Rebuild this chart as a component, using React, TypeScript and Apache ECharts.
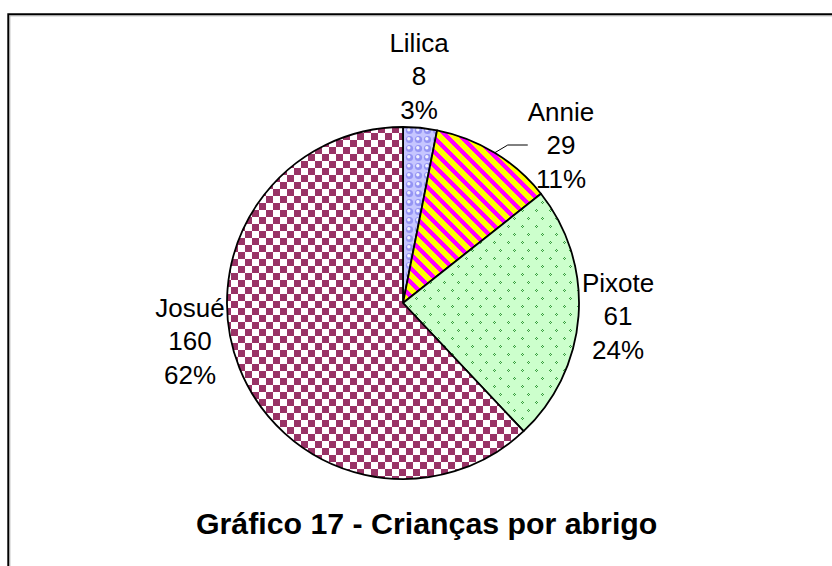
import React, { useEffect, useRef } from 'react';
import * as echarts from 'echarts';

const categories = ['Lilica', 'Annie', 'Pixote', 'Josué'];
const values = [8, 29, 61, 160];
const chartTitle = 'Gráfico 17 - Crianças por abrigo';

const FONT = '"Liberation Sans", Arial, sans-serif';

type Draw = (ctx: CanvasRenderingContext2D, w: number, h: number) => void;

function makeTile(w: number, h: number, draw: Draw) {
  const c = document.createElement('canvas');
  c.width = w;
  c.height = h;
  const ctx = c.getContext('2d') as CanvasRenderingContext2D;
  draw(ctx, w, h);
  return { image: c, repeat: 'repeat', imageWidth: w, imageHeight: h } as any;
}

function buildPatterns() {
  const bubbles = makeTile(9, 9, (ctx, w, h) => {
    ctx.fillStyle = '#c6c6ff';
    ctx.fillRect(0, 0, w, h);
    ctx.beginPath();
    ctx.arc(4.5, 4.5, 3.6, 0, Math.PI * 2);
    ctx.fillStyle = '#9494f4';
    ctx.fill();
    ctx.beginPath();
    ctx.arc(3.8, 3.8, 1.7, 0, Math.PI * 2);
    ctx.fillStyle = '#f2f2ff';
    ctx.fill();
  });
  const stripes = makeTile(14, 14, (ctx, w, h) => {
    const img = ctx.createImageData(w, h);
    for (let y = 0; y < h; y++) {
      for (let x = 0; x < w; x++) {
        const d = (((x - y) % w) + w) % w;
        const i = (y * w + x) * 4;
        const mag = d < 6;
        img.data[i] = 255;
        img.data[i + 1] = mag ? 0 : 255;
        img.data[i + 2] = mag ? 255 : 0;
        img.data[i + 3] = 255;
      }
    }
    ctx.putImageData(img, 0, 0);
  });
  const sprinkles = makeTile(14, 16, (ctx, w, h) => {
    ctx.fillStyle = '#ccffcc';
    ctx.fillRect(0, 0, w, h);
    ctx.fillStyle = '#3a9e40';
    // "<" mark
    ctx.fillRect(4, 1, 1, 1);
    ctx.fillRect(3, 2, 1, 1);
    ctx.fillRect(4, 3, 1, 1);
    ctx.fillRect(5, 2, 1, 1);
    // ">" mark
    ctx.fillRect(10, 9, 1, 1);
    ctx.fillRect(11, 10, 1, 1);
    ctx.fillRect(10, 11, 1, 1);
    ctx.fillRect(9, 10, 1, 1);
  });
  const checker = makeTile(14, 14, (ctx, w, h) => {
    ctx.fillStyle = '#ffffff';
    ctx.fillRect(0, 0, w, h);
    ctx.fillStyle = '#993366';
    ctx.fillRect(0, 0, 7, 7);
    ctx.fillRect(7, 7, 7, 7);
  });
  return [bubbles, stripes, sprinkles, checker];
}

// label anchor points (centre of each three-line label), as in the original
const labelAnchors: [number, number][] = [
  [419, 76],
  [561, 145],
  [618, 316],
  [190, 341],
];

export default function App() {
  const ref = useRef<HTMLDivElement>(null);
  useEffect(() => {
    if (!ref.current) return;
    const chart = echarts.init(ref.current, undefined, { renderer: 'svg' });
    const patterns = buildPatterns();
    chart.setOption({
      animation: false,
      backgroundColor: '#ffffff',
      title: {
        text: chartTitle,
        left: 196,
        top: 508,
        padding: 0,
        textStyle: { fontSize: 30.3, fontWeight: 'bold', fontFamily: FONT, color: '#000' },
      },
      graphic: [
        {
          type: 'polyline',
          shape: { points: [[8.3, 700], [8.3, 14.3], [900, 14.3]] },
          style: { stroke: '#000', lineWidth: 2, fill: 'none' },
          silent: true,
        },
        {
          type: 'polyline',
          shape: { points: [[9.8, 700], [9.8, 15.8], [900, 15.8]] },
          style: { stroke: '#a0a0a0', lineWidth: 1, fill: 'none' },
          silent: true,
        },
      ],
      series: [
        {
          type: 'pie',
          center: [403, 303],
          radius: 176,
          startAngle: 90,
          clockwise: true,
          percentPrecision: 0,
          avoidLabelOverlap: false,
          emphasis: { disabled: true },
          itemStyle: { borderColor: '#000', borderWidth: 1.8 },
          label: {
            show: true,
            position: 'outside',
            formatter: '{b}\n{c}\n{d}%',
            color: '#000',
            fontFamily: FONT,
            fontSize: 26,
            lineHeight: 33.5,
            align: 'center',
          },
          labelLine: { show: false },
          labelLayout: (p: any) => ({
            x: labelAnchors[p.dataIndex][0],
            y: labelAnchors[p.dataIndex][1],
            align: 'center',
            verticalAlign: 'middle',
          }),
          data: categories.map((name, i) => ({
            name,
            value: values[i],
            itemStyle: { color: patterns[i] },
            labelLine:
              i === 1
                ? { show: true, length: 6, length2: 20, lineStyle: { color: '#000', width: 1 } }
                : { show: false },
          })),
        },
      ],
    });
    return () => chart.dispose();
  }, []);
  return (
    <div
      ref={ref}
      style={{ position: 'fixed', left: 0, top: 0, width: 832, height: 566, background: '#fff' }}
    />
  );
}
